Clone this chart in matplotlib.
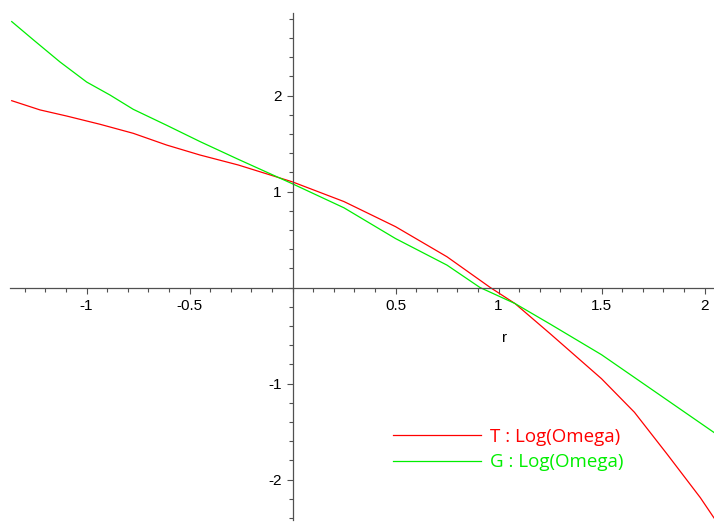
import numpy as np
import matplotlib
matplotlib.use('Agg')
import matplotlib.pyplot as plt
from matplotlib.ticker import FixedLocator

# values
r_T = [-1.363, -1.226, -1.096, -0.934, -0.773, -0.611, -0.449, -0.263, 0.0, 0.25,
       0.5, 0.75, 0.96, 1.08, 1.25, 1.5, 1.66, 1.82, 1.98, 2.046]
logomega_T = [1.946, 1.85, 1.786, 1.70, 1.606, 1.484, 1.38, 1.276, 1.10, 0.895,
              0.634, 0.32, 0.0, -0.167, -0.48, -0.95, -1.30, -1.74, -2.19, -2.40]

r_G = [-1.363, -1.258, -1.129, -0.999, -0.886, -0.773, -0.611, -0.449, -0.263, 0.0,
       0.25, 0.5, 0.75, 0.91, 1.08, 1.25, 1.5, 1.79, 2.046]
logomega_G = [2.77, 2.58, 2.35, 2.14, 2.005, 1.856, 1.69, 1.52, 1.335, 1.08,
              0.83, 0.51, 0.233, 0.0, -0.167, -0.38, -0.70, -1.13, -1.51]

labels = ['T : Log(Omega)', 'G : Log(Omega)']
xticks = [-1, -0.5, 0.5, 1, 1.5, 2]
yticks = [-2, -1, 1, 2]

W, H = 714, 524
fig = plt.figure(figsize=(W / 100, H / 100), dpi=100)
ax = fig.add_axes([0, 0, 1, 1])

# pixel -> data mapping: x=0 at px 292.5, 206 px/unit; y=0 at px 287.5, 96 px/unit
ax.set_xlim(-292.5 / 206, (W - 292.5) / 206)
ax.set_ylim(-(H - 287.5) / 96, 287.5 / 96)

ax.plot(r_T, logomega_T, color='#ff0000', lw=0.9, label=labels[0])
ax.plot(r_G, logomega_G, color='#00ee00', lw=0.9, label=labels[1])

for s in ['top', 'right']:
    ax.spines[s].set_visible(False)
ax.spines['left'].set_position(('data', 0))
ax.spines['bottom'].set_position(('data', 0))
ax.spines['left'].set_bounds(-2.42, 2.86)
ax.spines['bottom'].set_bounds(-1.37, 2.05)
for s in ['left', 'bottom']:
    ax.spines[s].set_color('#505050')
    ax.spines[s].set_linewidth(0.9)

ax.xaxis.set_major_locator(FixedLocator(xticks))
ax.xaxis.set_minor_locator(FixedLocator(np.arange(-13, 21) / 10))
ax.yaxis.set_major_locator(FixedLocator(yticks))
ax.yaxis.set_minor_locator(FixedLocator(np.arange(-12, 15) / 5))
ax.set_xticklabels(['-1', '-0.5', '0.5', '1', '1.5', '2'])
ax.set_yticklabels(['-2', '-1', '1', '2'])
ax.tick_params(which='major', length=4, width=0.8, color='#505050',
               labelsize=11, pad=4)
ax.tick_params(which='minor', length=3, width=0.8, color='#505050')
for t in ax.get_xticklabels() + ax.get_yticklabels():
    t.set_family('Liberation Sans')

ax.text(1.03, -0.53, 'r', fontsize=11, family='Liberation Sans',
        ha='center', va='center')

leg = ax.legend(loc='upper left', bbox_to_anchor=(393 / W, 1 - 428 / H),
                bbox_transform=fig.transFigure, frameon=False,
                prop={'family': 'Open Sans', 'size': 13.5},
                handlelength=4.7, handletextpad=0.45, labelspacing=0.38,
                borderpad=0, borderaxespad=0, labelcolor='linecolor')

fig.savefig('out.png', dpi=100)
